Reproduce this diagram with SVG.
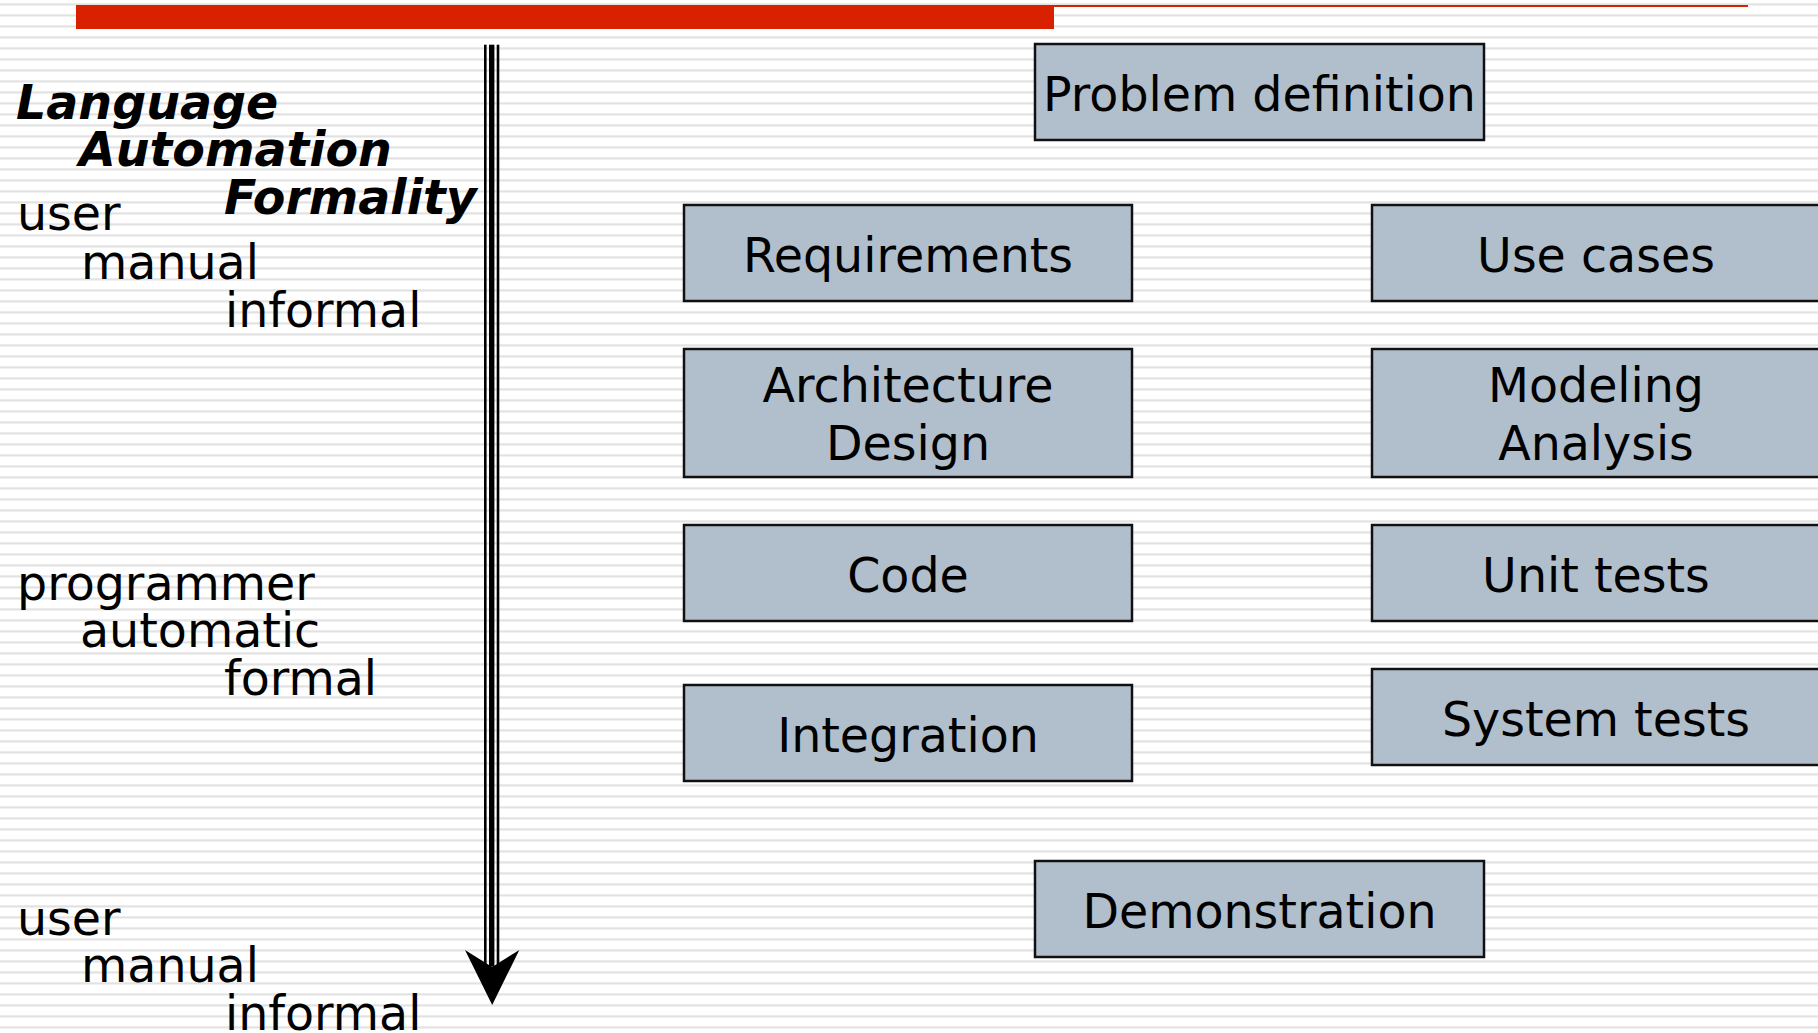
<svg xmlns="http://www.w3.org/2000/svg" width="1818" height="1033" viewBox="0 0 1818 1033">
  <defs>
    <pattern id="stripes" patternUnits="userSpaceOnUse" x="0" y="0" width="20" height="11">
      <rect x="0" y="3.3" width="20" height="2.2" fill="#e2e2e2"/>
    </pattern>
    <style>
      text { font-family: "DejaVu Sans", Verdana, sans-serif; font-size: 47.5px; fill: #000; }
      .bi { font-weight: bold; font-style: italic; }
      .box rect { fill: #b1bfcc; stroke: #111; stroke-width: 2.5; }
      .box text { text-anchor: middle; }
    </style>
  </defs>
  <rect x="0" y="0" width="1818" height="1033" fill="#fff"/>
  <rect x="0" y="0" width="1818" height="1033" fill="url(#stripes)"/>

  <!-- title bar -->
  <rect x="76" y="5" width="978" height="24" fill="#d92100"/>
  <rect x="1054" y="5" width="694" height="2" fill="#d92100"/>

  <!-- left labels -->
  <g id="labels">
    <text class="bi" x="16" y="118.5">Language</text>
    <text class="bi" x="79" y="166">Automation</text>
    <text class="bi" x="224" y="213.5">Formality</text>
    <text x="17" y="230">user</text>
    <text x="81" y="278.5">manual</text>
    <text x="225" y="327">informal</text>
    <text x="17" y="600">programmer</text>
    <text x="80" y="647">automatic</text>
    <text x="224" y="695">formal</text>
    <text x="17" y="935">user</text>
    <text x="81" y="982">manual</text>
    <text x="225" y="1030">informal</text>
  </g>

  <!-- axis arrow -->
  <g id="connectors">
    <rect x="484" y="44.7" width="2.6" height="922" fill="#000"/>
    <rect x="489" y="44.7" width="5.4" height="922" fill="#000"/>
    <rect x="496.7" y="44.7" width="2.6" height="922" fill="#000"/>
    <polygon points="465,950 492.2,1005 519.3,950 492.2,967" fill="#000"/>
  </g>

  <g id="problem-definition" class="box">
    <rect x="1035" y="44" width="449" height="96"/>
    <text x="1259.5" y="110.5">Problem definition</text>
  </g>
  <g id="requirements" class="box">
    <rect x="684" y="205" width="448" height="96"/>
    <text x="908" y="271.5">Requirements</text>
  </g>
  <g id="use-cases" class="box">
    <rect x="1372" y="205" width="448" height="96"/>
    <text x="1596" y="271.5">Use cases</text>
  </g>
  <g id="architecture-design" class="box">
    <rect x="684" y="349" width="448" height="128"/>
    <text x="908" y="401.5">Architecture</text>
    <text x="908" y="460">Design</text>
  </g>
  <g id="modeling-analysis" class="box">
    <rect x="1372" y="349" width="448" height="128"/>
    <text x="1596" y="401.5">Modeling</text>
    <text x="1596" y="460">Analysis</text>
  </g>
  <g id="code" class="box">
    <rect x="684" y="525" width="448" height="96"/>
    <text x="908" y="591.5">Code</text>
  </g>
  <g id="unit-tests" class="box">
    <rect x="1372" y="525" width="448" height="96"/>
    <text x="1596" y="591.5">Unit tests</text>
  </g>
  <g id="integration" class="box">
    <rect x="684" y="685" width="448" height="96"/>
    <text x="908" y="751.5">Integration</text>
  </g>
  <g id="system-tests" class="box">
    <rect x="1372" y="669" width="448" height="96"/>
    <text x="1596" y="735.5">System tests</text>
  </g>
  <g id="demonstration" class="box">
    <rect x="1035" y="861" width="449" height="96"/>
    <text x="1259.5" y="927.5">Demonstration</text>
  </g>
</svg>
